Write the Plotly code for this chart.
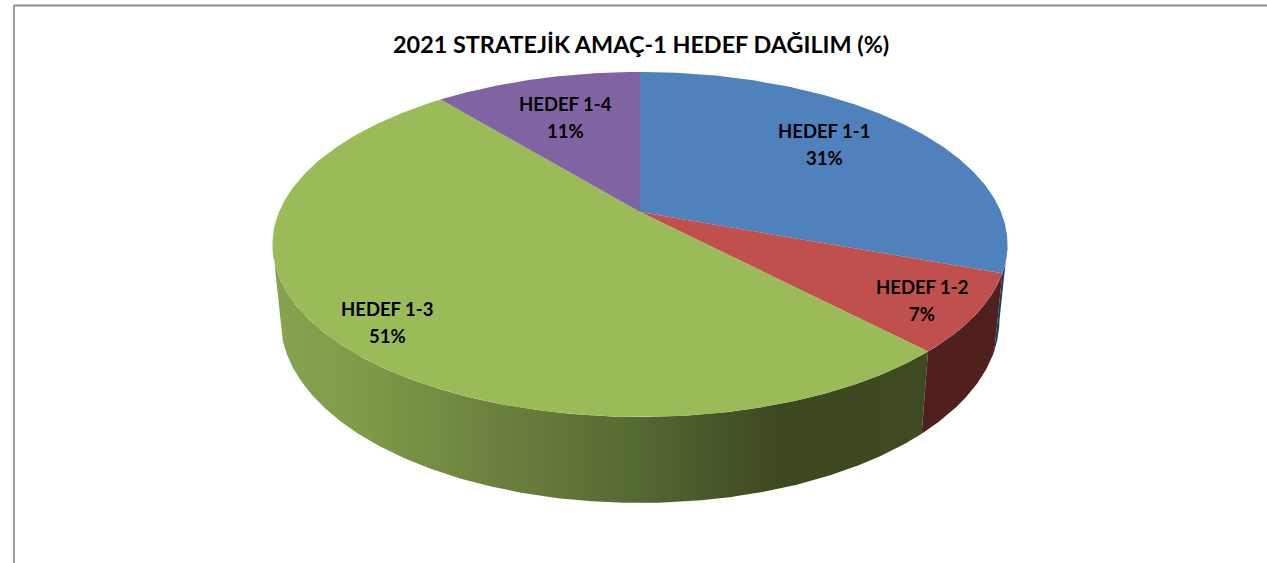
import numpy as np
import plotly.graph_objects as go

categories = ["HEDEF 1-1", "HEDEF 1-2", "HEDEF 1-3", "HEDEF 1-4"]
values = [30.6, 7.3, 51.2, 10.9]
top_colors = ["#4F81BD", "#C0504D", "#9BBB59", "#8064A2"]
side_colors = ["#1F3A5F", "#4F201E", "#6A7F3D", "#4B3A60"]
title_text = "2021 STRATEJİK AMAÇ-1 HEDEF DAĞILIM (%)"
label_xy = [(824, 131), (922, 287), (387, 309), (565, 104)]

# projection of the pie's disc (pixel units)
CX, CY, A, B, K = 640, 212, 361, 166.4, 0.188
SX, SY, CY_LOW = 0.978, 1.06, 285.7


def project(t, low=False):
    w = 1 + K * np.sin(t)
    x = A * np.cos(t) / w
    y = B * np.sin(t) / w
    if low:
        return CX + SX * x, CY_LOW - SY * y
    return CX + x, CY - y


fractions = np.cumsum([0] + values) / sum(values)
angles = np.pi / 2 - 2 * np.pi * fractions
# the wall is seen between the disc's right-most and left-most points
right_edge = -np.arcsin(K)
left_edge = -np.pi + np.arcsin(K)

fig = go.Figure()
grad = dict(
    type="horizontal", start=283, stop=925,
    colorscale=[[0, "#87A24E"], [0.12, "#7F9B49"], [0.32, "#6D823F"],
                [0.55, "#556933"], [0.78, "#3C4820"], [1, "#3E4A22"]],
)
for i in [0, 2, 1]:
    t0 = min(angles[i], right_edge)
    t1 = max(angles[i + 1], left_edge)
    t = np.linspace(t0, t1, 240)
    xt, yt = project(t)
    xb, yb = project(t[::-1], low=True)
    kw = dict(fillgradient=grad) if i == 2 else dict(fillcolor=side_colors[i])
    fig.add_trace(go.Scatter(
        x=np.r_[xt, xb], y=np.r_[yt, yb], mode="lines", fill="toself",
        line=dict(width=0), hoverinfo="skip", showlegend=False, **kw))
for i in range(4):
    t = np.linspace(angles[i], angles[i + 1], 240)
    xt, yt = project(t)
    fig.add_trace(go.Scatter(
        x=np.r_[CX, xt, CX], y=np.r_[CY, yt, CY], mode="lines", fill="toself",
        fillcolor=top_colors[i], line=dict(width=0), hoverinfo="text",
        text=f"{categories[i]}: {values[i]:.0f}%", showlegend=False))

label_font = dict(family="Lato", size=18.5, color="#000000", weight="bold")
for (x, y), name, v in zip(label_xy, categories, values):
    fig.add_annotation(x=x, y=y, text=name, showarrow=False, font=label_font)
    fig.add_annotation(x=x, y=y + 27, text=f"{v:.0f}%", showarrow=False, font=label_font)

fig.add_annotation(
    xref="x", yref="y", x=641, y=43.5, text=title_text, showarrow=False,
    font=dict(family="Lato", size=23.4, color="#000000", weight="bold"))

fig.add_shape(type="line", x0=13, x1=1267, y0=5.5, y1=5.5, line=dict(color="#8C8C8C", width=2))
fig.add_shape(type="line", x0=14, x1=14, y0=5, y1=563, line=dict(color="#A0A0A0", width=2))

fig.update_layout(
    width=1267, height=563, margin=dict(l=0, r=0, t=0, b=0),
    paper_bgcolor="white", plot_bgcolor="white",
    xaxis=dict(range=[0, 1267], visible=False, fixedrange=True),
    yaxis=dict(range=[563, 0], visible=False, fixedrange=True),
)
fig.write_html("out.html", config=dict(displayModeBar=False),
               post_script="document.body.style.margin='0';document.documentElement.style.overflow='hidden';")
